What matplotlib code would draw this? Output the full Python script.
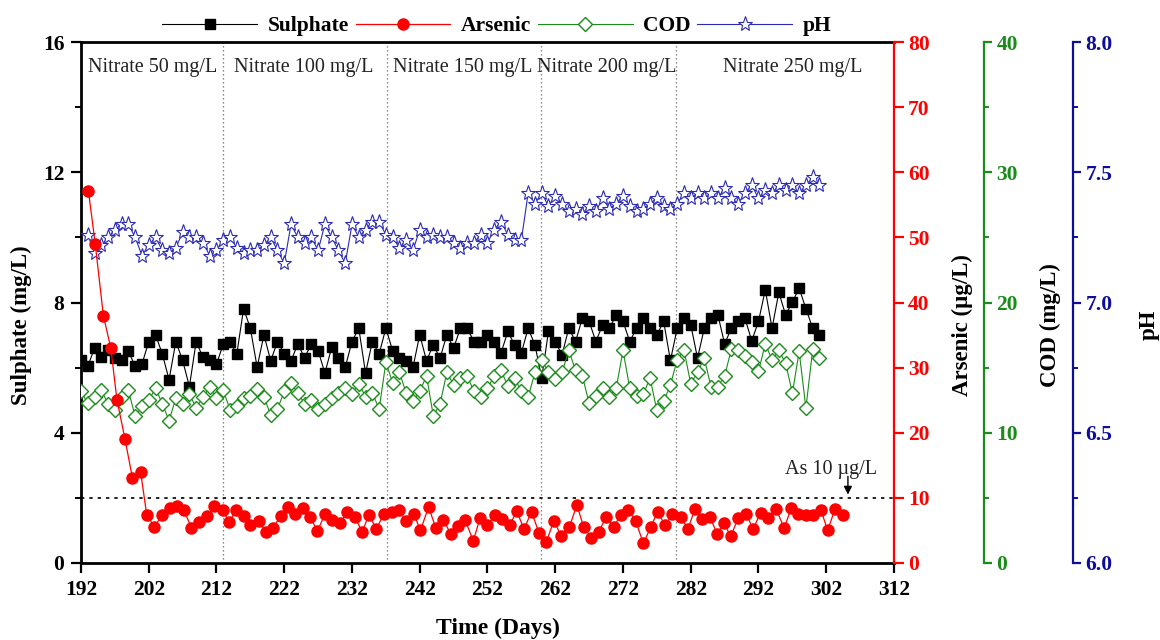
import matplotlib
matplotlib.use("Agg")
import matplotlib.pyplot as plt
from matplotlib.lines import Line2D
from matplotlib.ticker import MultipleLocator

plt.rcParams['font.family'] = ['Liberation Serif', 'DejaVu Serif']
plt.rcParams['mathtext.default'] = 'regular'

# ---------------- data ----------------
sulphate_days = list(range(192, 302))
sulphate = [6.22, 6.04, 6.60, 6.32, 6.55, 6.29, 6.22, 6.50, 6.04, 6.11,
            6.80, 7.01, 6.42, 5.63, 6.80, 6.22, 5.42, 6.80, 6.32, 6.22,
            6.11, 6.72, 6.78, 6.42, 7.81, 7.21, 6.01, 7.01, 6.21, 6.80,
            6.42, 6.21, 6.72, 6.31, 6.72, 6.52, 5.83, 6.62, 6.31, 6.01,
            6.80, 7.21, 5.83, 6.80, 6.42, 7.21, 6.52, 6.31, 6.19, 6.01,
            7.01, 6.21, 6.70, 6.29, 7.01, 6.60, 7.21, 7.21, 6.80, 6.80,
            7.01, 6.80, 6.45, 7.11, 6.70, 6.45, 7.21, 6.70, 5.68, 7.11,
            6.80, 6.39, 7.21, 6.80, 7.52, 7.42, 6.80, 7.32, 7.21, 7.62,
            7.42, 6.80, 7.21, 7.52, 7.21, 7.01, 7.42, 6.22, 7.21, 7.52,
            7.32, 6.29, 7.21, 7.52, 7.62, 6.73, 7.21, 7.42, 7.52, 6.82,
            7.42, 8.39, 7.21, 8.31, 7.62, 8.01, 8.44, 7.81, 7.21, 7.01]

arsenic_days = [193.1, 194.1, 195.3, 196.4, 197.3, 198.5, 199.6, 200.8, 201.7, 202.8,
                204.0, 205.1, 206.2, 207.2, 208.3, 209.4, 210.6, 211.7, 212.9, 213.9,
                214.9, 216.0, 217.0, 218.2, 219.3, 220.3, 221.5, 222.6, 223.6, 224.7,
                225.8, 226.9, 228.0, 229.1, 230.2, 231.3, 232.4, 233.5, 234.5, 235.6,
                236.7, 237.9, 238.9, 240.0, 241.1, 242.1, 243.3, 244.4, 245.5, 246.6,
                247.7, 248.7, 249.9, 250.9, 252.0, 253.1, 254.2, 255.3, 256.3, 257.4,
                258.5, 259.6, 260.7, 261.8, 262.9, 264.1, 265.2, 266.2, 267.3, 268.4,
                269.5, 270.6, 271.7, 272.8, 273.9, 275.0, 276.1, 277.1, 278.2, 279.3,
                280.5, 281.6, 282.6, 283.7, 284.8, 285.9, 286.9, 287.9, 289.0, 290.2,
                291.2, 292.3, 293.4, 294.6, 295.8, 296.8, 297.9, 299.0, 300.1, 301.2,
                302.2, 303.3, 304.5]
arsenic = [57.1, 49.0, 38.0, 33.0, 25.1, 19.0, 13.0, 14.0, 7.4, 5.6,
           7.3, 8.4, 8.8, 8.1, 5.4, 6.3, 7.2, 8.8, 8.1, 6.3,
           8.2, 7.2, 5.9, 6.5, 4.7, 5.4, 7.2, 8.6, 7.5, 8.4,
           7.1, 4.9, 7.5, 6.6, 6.1, 7.9, 7.1, 4.8, 7.4, 5.2,
           7.6, 7.8, 8.2, 6.4, 7.6, 5.0, 8.6, 5.3, 6.6, 4.4,
           5.7, 6.6, 3.4, 6.9, 5.9, 7.4, 6.8, 5.8, 8.0, 5.2,
           7.9, 4.6, 3.3, 6.5, 4.1, 5.6, 8.9, 5.5, 3.9, 4.7,
           7.1, 5.5, 7.4, 8.2, 6.4, 3.0, 5.5, 7.9, 5.8, 7.5,
           7.1, 5.2, 8.3, 6.8, 7.1, 4.5, 6.1, 4.1, 6.9, 7.5,
           5.2, 7.7, 6.9, 8.3, 5.3, 8.4, 7.6, 7.3, 7.4, 8.2,
           5.0, 8.3, 7.3]

cod_days = list(range(192, 302))
cod = [13.17, 12.27, 12.78, 13.25, 12.22, 11.76, 12.73, 13.25, 11.25, 12.02,
       12.48, 13.42, 12.22, 10.94, 12.66, 12.22, 12.99, 11.89, 12.73, 13.50,
       12.66, 13.25, 11.76, 12.07, 12.66, 12.84, 13.35, 12.73, 11.38, 11.81,
       13.17, 13.81, 13.04, 12.22, 12.48, 11.81, 12.22, 12.66, 13.04, 13.42,
       12.99, 13.76, 12.78, 13.09, 11.81, 15.40, 13.84, 14.63, 13.04, 12.40,
       13.17, 14.37, 11.30, 12.22, 14.63, 13.68, 14.19, 14.37, 13.17, 12.78,
       13.42, 14.37, 14.78, 13.60, 14.19, 13.17, 12.73, 14.63, 15.60, 14.63,
       14.10, 14.63, 16.32, 14.78, 14.37, 12.27, 12.84, 13.42, 12.78, 13.42,
       16.32, 13.42, 12.84, 12.99, 14.19, 11.71, 12.40, 13.68, 15.60, 16.35,
       13.76, 14.65, 15.73, 13.50, 13.55, 14.37, 16.42, 16.32, 15.86, 15.47,
       14.71, 16.83, 15.60, 16.32, 15.35, 13.04, 16.24, 11.89, 16.42, 15.73]

ph_days = list(range(193, 302))
ph = [7.26, 7.19, 7.22, 7.25, 7.28, 7.30, 7.30, 7.25, 7.18, 7.22,
      7.25, 7.20, 7.19, 7.21, 7.27, 7.25, 7.25, 7.23, 7.18, 7.20,
      7.24, 7.25, 7.21, 7.19, 7.20, 7.20, 7.22, 7.25, 7.20, 7.15,
      7.30, 7.25, 7.23, 7.25, 7.20, 7.30, 7.25, 7.20, 7.15, 7.30,
      7.25, 7.28, 7.31, 7.31, 7.26, 7.25, 7.21, 7.24, 7.20, 7.28,
      7.25, 7.26, 7.25, 7.25, 7.23, 7.21, 7.23, 7.23, 7.26, 7.23,
      7.28, 7.31, 7.26, 7.24, 7.24, 7.42, 7.38, 7.42, 7.37, 7.41,
      7.38, 7.35, 7.36, 7.34, 7.37, 7.35, 7.40, 7.36, 7.38, 7.41,
      7.37, 7.35, 7.36, 7.38, 7.40, 7.37, 7.36, 7.38, 7.42, 7.40,
      7.42, 7.40, 7.42, 7.40, 7.44, 7.40, 7.38, 7.42, 7.45, 7.40,
      7.43, 7.42, 7.45, 7.43, 7.45, 7.42, 7.45, 7.48, 7.45]

phase_bounds = [213, 237.2, 259.9, 279.8]
phase_labels = ['Nitrate 50 mg/L', 'Nitrate 100 mg/L', 'Nitrate 150 mg/L',
                'Nitrate 200 mg/L', 'Nitrate 250 mg/L']
phase_label_x = [202.6, 224.9, 248.4, 269.6, 297.0]
arsenic_limit = 10

x_ticks = [192, 202, 212, 222, 232, 242, 252, 262, 272, 282, 292, 302, 312]

# ---------------- style ----------------
RED = '#ff0000'
GREEN = '#1a8c1a'
BLUE = '#0d0d9c'
STAR = '#2a2ab8'
TICK_FS = 15.5
LABEL_FS = 16.5

fig = plt.figure(figsize=(11.6, 6.4), dpi=100)
ax = fig.add_axes([81 / 1160, 1 - 563 / 640, (894 - 81) / 1160, (563 - 42) / 640])
ax_ph = ax.twinx()
ax_cod = ax.twinx()
ax_as = ax.twinx()

# Sulphate (left axis)
ax.plot(sulphate_days, sulphate, '-', color='black', lw=0.8, marker='s',
        ms=7, mfc='black', mec='black', zorder=3)
ax.set_xlim(192, 312)
ax.set_ylim(0, 16)
ax.set_xticks(x_ticks)
ax.yaxis.set_major_locator(MultipleLocator(4))
ax.yaxis.set_minor_locator(MultipleLocator(2))

# phase separators and labels
for xb in phase_bounds:
    ax.axvline(xb, color='#666666', lw=0.9, ls=(0, (1, 2.2)), zorder=1)
for txt, xp in zip(phase_labels, phase_label_x):
    ax.text(xp, 15.22, txt, ha='center', va='center', fontsize=14.5,
            color='#222222')

# pH axis
ax_ph.plot(ph_days, ph, '-', color=STAR, lw=0.8, marker='*', ms=11,
           mfc='white', mec=STAR, mew=0.8)
ax_ph.set_ylim(6.0, 8.0)
ax_ph.yaxis.set_major_locator(MultipleLocator(0.5))
ax_ph.yaxis.set_minor_locator(MultipleLocator(0.25))
ax_ph.yaxis.set_major_formatter(matplotlib.ticker.FormatStrFormatter('%.1f'))

# COD axis
ax_cod.plot(cod_days, cod, '-', color=GREEN, lw=0.8, marker='D', ms=7,
            mfc='white', mec=GREEN, mew=1.0)
ax_cod.set_ylim(0, 40)
ax_cod.yaxis.set_major_locator(MultipleLocator(10))
ax_cod.yaxis.set_minor_locator(MultipleLocator(5))

# Arsenic axis
ax_as.plot(arsenic_days, arsenic, '-', color=RED, lw=0.9, marker='o', ms=8,
           mfc=RED, mec=RED)
ax_as.set_ylim(0, 80)
ax_as.yaxis.set_major_locator(MultipleLocator(10))
ax_as.axhline(arsenic_limit, color='black', lw=1.2, ls=(0, (2, 3)), zorder=1)
ax_as.text(302.7, 14.3, 'As 10 µg/L', ha='center', va='center', fontsize=14.5,
           color='#222222')
ax_as.annotate('', xy=(305.2, 10.5), xytext=(305.2, 13.3),
               arrowprops=dict(arrowstyle='-|>', color='black', lw=1.0,
                               mutation_scale=12, shrinkA=0, shrinkB=0))

# spines
for s in ['top', 'bottom', 'left']:
    ax.spines[s].set_linewidth(2.0)
    ax.spines[s].set_color('black')
ax.spines['right'].set_visible(False)

for a in (ax_ph, ax_cod, ax_as):
    for s in ['top', 'bottom', 'left']:
        a.spines[s].set_visible(False)

ax_as.spines['right'].set_color(RED)
ax_as.spines['right'].set_linewidth(1.6)
ax_cod.spines['right'].set_position(('axes', (984 - 81) / 813))
ax_cod.spines['right'].set_color(GREEN)
ax_cod.spines['right'].set_linewidth(1.6)
ax_ph.spines['right'].set_position(('axes', (1073 - 81) / 813))
ax_ph.spines['right'].set_color(BLUE)
ax_ph.spines['right'].set_linewidth(1.6)

# ticks
ax.tick_params(axis='x', which='major', direction='out', length=7, width=1.6,
               labelsize=TICK_FS, pad=5)
ax.tick_params(axis='y', which='major', direction='out', length=7, width=1.6,
               labelsize=TICK_FS, pad=5)
ax.tick_params(axis='y', which='minor', direction='out', length=4, width=1.4)
ax_as.tick_params(axis='y', which='major', direction='out', length=7, width=1.6,
                  labelsize=TICK_FS, colors=RED, pad=3)
ax_cod.tick_params(axis='y', which='major', direction='out', length=6, width=1.6,
                   labelsize=TICK_FS, colors=GREEN, pad=3)
ax_cod.tick_params(axis='y', which='minor', direction='out', length=3.5, width=1.4,
                   colors=GREEN)
ax_ph.tick_params(axis='y', which='major', direction='out', length=6, width=1.6,
                  labelsize=TICK_FS, colors=BLUE, pad=3)
ax_ph.tick_params(axis='y', which='minor', direction='out', length=3.5, width=1.4,
                  colors=BLUE)

for a in (ax, ax_as, ax_cod, ax_ph):
    for lab in a.get_xticklabels() + a.get_yticklabels():
        lab.set_fontweight('bold')

# axis labels
ax.set_xlabel('Time (Days)', fontsize=17, fontweight='bold')
ax.xaxis.set_label_coords((498 - 81) / 813, -0.105)
ax.set_ylabel('Sulphate (mg/L)', fontsize=LABEL_FS, fontweight='bold')
ax.yaxis.set_label_coords(-0.060, 0.457)
ax_as.set_ylabel('Arsenic (µg/L)', fontsize=LABEL_FS, fontweight='bold')
ax_as.yaxis.set_label_coords((952 - 81) / 813, 0.457)
ax_cod.set_ylabel('COD (mg/L)', fontsize=LABEL_FS, fontweight='bold')
ax_cod.yaxis.set_label_coords((1040 - 81) / 813, 0.457)
ax_ph.set_ylabel('pH', fontsize=LABEL_FS, fontweight='bold')
ax_ph.yaxis.set_label_coords((1139 - 81) / 813, 0.457)

# legend across the top
handles = [
    Line2D([], [], color='black', lw=0.8, marker='s', ms=7, mfc='black'),
    Line2D([], [], color=RED, lw=0.9, marker='o', ms=8, mfc=RED, mec=RED),
    Line2D([], [], color=GREEN, lw=0.8, marker='D', ms=7, mfc='white', mec=GREEN),
    Line2D([], [], color=STAR, lw=0.8, marker='*', ms=11, mfc='white', mec=STAR, mew=0.8),
]
fig.legend(handles, ['Sulphate', 'Arsenic', 'COD', 'pH'], loc='center',
           bbox_to_anchor=(497 / 1160, 1 - 26 / 640), ncol=4, frameon=False,
           numpoints=1, handlelength=4.4, handletextpad=0.5, columnspacing=0.3,
           prop={'weight': 'bold', 'size': 15.5})

fig.savefig('out.png', dpi=100)
